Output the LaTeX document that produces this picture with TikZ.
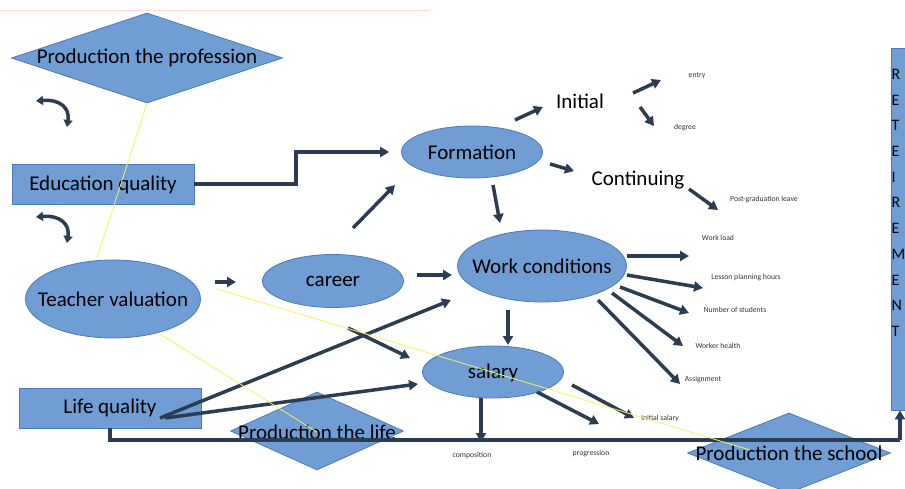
\documentclass[tikz,border=0pt]{standalone}
\usepackage{fontspec}
\setmainfont{Carlito}
\usetikzlibrary{shapes.geometric,arrows.meta}
\definecolor{shpfill}{HTML}{709ED4}
\definecolor{shpline}{HTML}{4A7BB7}
\definecolor{arrcol}{HTML}{2B3D52}
\definecolor{ylw}{HTML}{F5F55A}
\tikzset{
  base/.style={fill=shpfill,draw=shpline,line width=0.8pt,inner sep=0pt},
  ell/.style={base,ellipse},
  rectbox/.style={base,rectangle},
  dia/.style={base,diamond},
  bigtxt/.style={font=\fontsize{21}{23}\selectfont,inner sep=0pt,text=black},
  smalltxt/.style={font=\fontsize{7.7}{9}\selectfont,inner sep=0pt,text=black!80},
  arr/.style={draw=arrcol,line width=3.5pt,-{Triangle[length=9pt,width=10pt]}},
  arrline/.style={draw=arrcol,line width=3.5pt},
  curv/.style={draw=arrcol,line width=3.5pt,{Triangle[length=7pt,width=9pt]}-{Triangle[length=7pt,width=9pt]}},
  ylwline/.style={draw=ylw,line width=0.8pt}
}
\begin{document}
\begin{tikzpicture}[x=1pt,y=-1pt]
\useasboundingbox (0,0) rectangle (905,488);
\fill[white] (0,0) rectangle (905,488);
\draw[red!15,line width=0.6pt] (0,10) -- (430,10);

% shapes
\node[dia,minimum width=271,minimum height=90] (pp) at (147,58) {};
\node[bigtxt] (ppt) at (147,58) {Production the profession};
\node[rectbox,minimum width=182,minimum height=40] (eq) at (103,184) {};
\node[bigtxt] (eqt) at (103,185) {Education quality};
\node[ell,minimum width=141,minimum height=52] (form) at (472,152) {};
\node[bigtxt] (formt) at (472,152) {Formation};
\node[ell,minimum width=169,minimum height=72] (wc) at (542,266) {};
\node[bigtxt] (wct) at (542,266) {Work conditions};
\node[ell,minimum width=175,minimum height=78] (tv) at (113,299) {};
\node[bigtxt] (tvt) at (113,299) {Teacher valuation};
\node[ell,minimum width=141,minimum height=53] (car) at (333,281) {};
\node[bigtxt] (cart) at (333,281) {career};
\node[ell,minimum width=141,minimum height=52] (sal) at (493,372) {};
\node[bigtxt] (salt) at (493,373) {salary};
\node[rectbox,minimum width=182,minimum height=40] (lq) at (110,408) {};
\node[bigtxt] (lqt) at (110,408) {Life quality};
\node[dia,minimum width=173,minimum height=78] (pl) at (317,431) {};
\node[bigtxt] (plt) at (317,432) {Production the life};
\node[dia,minimum width=203,minimum height=80] (ps) at (789,453) {};
\node[bigtxt] (pst) at (789,453) {Production the school};
\node[rectbox,minimum width=22,minimum height=362] (ret) at (902,229) {};
\node[align=left,inner sep=0pt,anchor=north west,font=\fontsize{16}{25.7}\selectfont] (rett) at (891.5,69) {R\\E\\T\\E\\I\\R\\E\\M\\E\\N\\T};

% plain texts
\node[bigtxt] (ini) at (580,101) {Initial};
\node[bigtxt] (cont) at (638,180) {Continuing};
\node[smalltxt] (entry) at (697,76) {entry};
\node[smalltxt] (degree) at (685,127) {degree};
\node[smalltxt] (pgl) at (764,199) {Post-graduation leave};
\node[smalltxt] (wl) at (718,238) {Work load};
\node[smalltxt] (lph) at (746,277) {Lesson planning hours};
\node[smalltxt] (nos) at (735,310) {Number of students};
\node[smalltxt] (wh) at (718,346) {Worker health};
\node[smalltxt] (asg) at (703,380) {Assignment};
\node[smalltxt] (isal) at (660,418) {Initial salary};
\node[smalltxt] (comp) at (472,455) {composition};
\node[smalltxt] (prog) at (591,454) {progression};

% coordinates for free arrow ends
\coordinate (a1s) at (515,120); \coordinate (a1e) at (543,107);
\coordinate (a2s) at (633,93);  \coordinate (a2e) at (661,80);
\coordinate (a3s) at (640,107); \coordinate (a3e) at (654,126);
\coordinate (a4s) at (550,164); \coordinate (a4e) at (574,171);
\coordinate (a5s) at (689,189); \coordinate (a5e) at (718,210);
\coordinate (a6s) at (493,185); \coordinate (a6e) at (500,223);
\coordinate (a7s) at (353,228); \coordinate (a7e) at (395,185);
\coordinate (a8s) at (627,256); \coordinate (a8e) at (689,256);
\coordinate (a9s) at (627,275); \coordinate (a9e) at (703,288);
\coordinate (a10s) at (620,287); \coordinate (a10e) at (689,313);
\coordinate (a11s) at (612,293); \coordinate (a11e) at (683,346);
\coordinate (a12s) at (598,300); \coordinate (a12e) at (680,384);
\coordinate (a13s) at (215,282); \coordinate (a13e) at (236,282);
\coordinate (a14s) at (417,275); \coordinate (a14e) at (452,275);
\coordinate (a15s) at (348,328); \coordinate (a15e) at (410,358);
\coordinate (a16s) at (160,418); \coordinate (a16e) at (451,300);
\coordinate (a17s) at (165,418); \coordinate (a17e) at (418,384);
\coordinate (a18s) at (508,310); \coordinate (a18e) at (508,345);
\coordinate (a19s) at (481,398); \coordinate (a19e) at (481,442);
\coordinate (a20s) at (537,392); \coordinate (a20e) at (599,424);
\coordinate (a21s) at (572,385); \coordinate (a21e) at (634,418);
\coordinate (eqk) at (296,184);
\coordinate (bot) at (900,440);
\coordinate (c1s) at (36,101); \coordinate (c1e) at (67,127);
\coordinate (c2s) at (36,217); \coordinate (c2e) at (67,243);

% connectors
\draw[arrline] (lq.south) |- (bot);
\draw[arr] (bot) -- (bot |- ret.south);
\draw[arr] (eq.east) -- (eqk) |- ([xshift=-12pt]form.west);
\foreach \i in {1,...,21} {\draw[arr] (a\i s) -- (a\i e);}
\draw[curv] (c1s) .. controls (60,99) and (70,108) .. (c1e);
\draw[curv] (c2s) .. controls (60,215) and (70,224) .. (c2e);

% yellow lines
\draw[ylwline] (pp.south) -- (97,258);
\draw[ylwline] (160,334) -- (plt.center);
\draw[ylwline] (217,289) -- (750,450);
\end{tikzpicture}
\end{document}
